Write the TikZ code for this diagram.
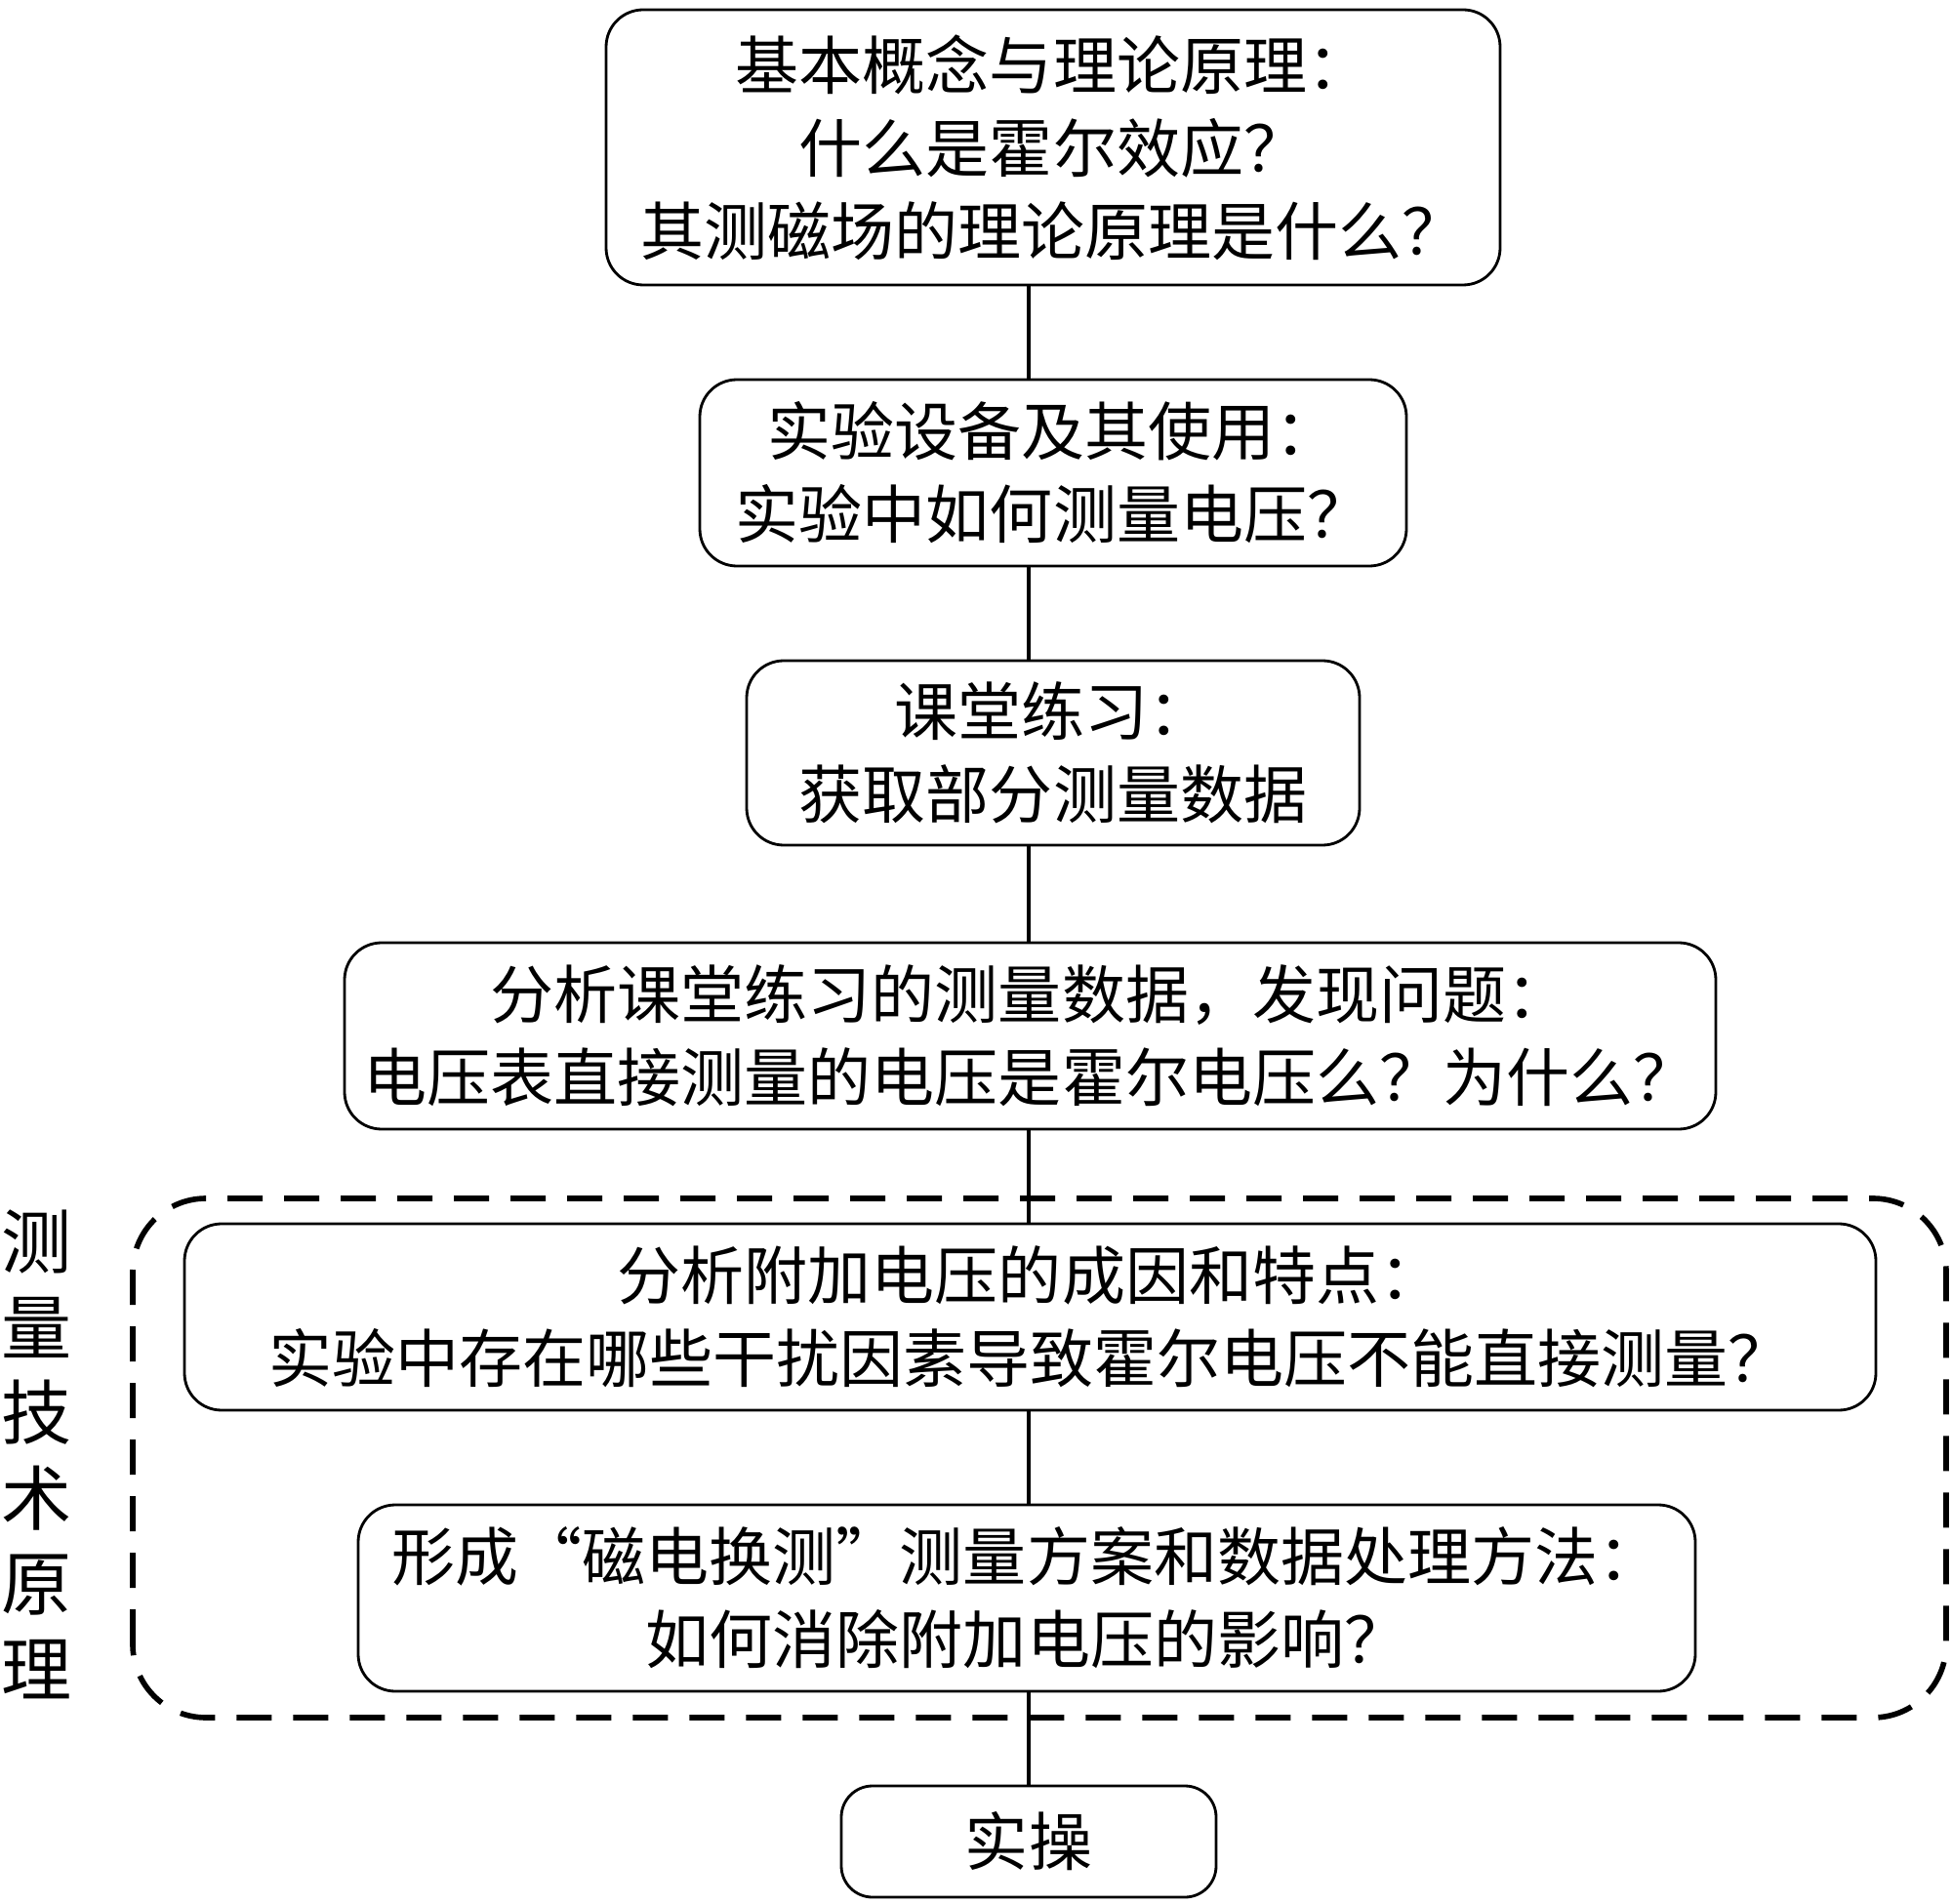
\documentclass[tikz,border=0pt]{standalone}
\usepackage{fontspec}
\setmainfont{Noto Sans CJK SC}
\begin{document}
\begin{tikzpicture}[
    stepbox/.style={draw, line width=0.8pt, rounded corners=0.38cm, align=center,
      font=\fontsize{18.5pt}{24.2pt}\selectfont, inner sep=0pt},
    link/.style={line width=1pt},
  ]
    \useasboundingbox (0,0) rectangle (20,19.5);
    % boxes
    \node[stepbox, minimum width=9.16cm, minimum height=2.82cm] (b1) at (10.79,17.99)
      {基本概念与理论原理：\\什么是霍尔效应？\\其测磁场的理论原理是什么？};
    \node[stepbox, minimum width=7.24cm, minimum height=1.91cm] (b2) at (10.79,14.655)
      {实验设备及其使用：\\实验中如何测量电压？};
    \node[stepbox, minimum width=6.28cm, minimum height=1.89cm] (b3) at (10.79,11.785)
      {课堂练习：\\获取部分测量数据};
    \node[stepbox, minimum width=14.05cm, minimum height=1.91cm] (b4) at (10.555,8.885)
      {分析课堂练习的测量数据，发现问题：\\电压表直接测量的电压是霍尔电压么？为什么？};
    \node[stepbox, minimum width=17.33cm, minimum height=1.91cm] (b5) at (10.555,6.005)
      {分析附加电压的成因和特点：\\实验中存在哪些干扰因素导致霍尔电压不能直接测量？};
    \node[stepbox, minimum width=13.70cm, minimum height=1.91cm] (b6) at (10.52,3.125)
      {形成“磁电换测”测量方案和数据处理方法：\\如何消除附加电压的影响？};
    \node[stepbox, rounded corners=0.32cm, minimum width=3.84cm, minimum height=1.14cm] (b7) at (10.54,0.63)
      {实操};
    % group
    \draw[line width=1.6pt, dash pattern=on 0.36cm off 0.22cm, rounded corners=0.75cm]
      (1.36,1.90) rectangle (19.94,7.22);
    \node[align=center, inner sep=0pt, font=\fontsize{20.5pt}{24.9pt}\selectfont] (grp) at (0.38,4.595)
      {测\\量\\技\\术\\原\\理};
    % links
    \draw[link] (b1.south -| b7.north) -- (b2.north -| b7.north);
    \draw[link] (b2.south -| b7.north) -- (b3.north -| b7.north);
    \draw[link] (b3.south -| b7.north) -- (b4.north -| b7.north);
    \draw[link] (b4.south -| b7.north) -- (b5.north -| b7.north);
    \draw[link] (b5.south -| b7.north) -- (b6.north -| b7.north);
    \draw[link] (b6.south -| b7.north) -- (b7.north);
  \end{tikzpicture}
\end{document}
